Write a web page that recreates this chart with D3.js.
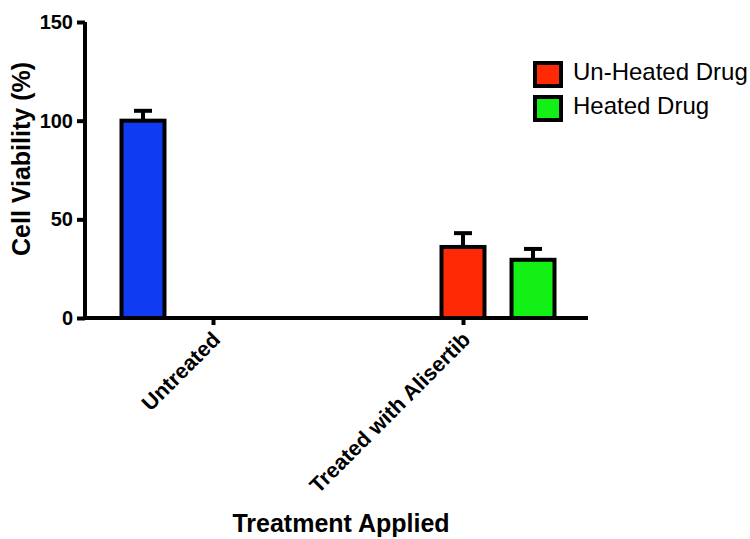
<!DOCTYPE html>
<html>
<head>
<meta charset="utf-8">
<script src="https://cdn.jsdelivr.net/npm/d3@7"></script>
<style>
  html, body { margin: 0; padding: 0; background: #fff; }
  svg { display: block; }
</style>
</head>
<body>
<svg id="chart" width="750" height="539"></svg>
<script>
// Categories on the x axis and the three series drawn in each group
const categories = ["Untreated", "Treated with Alisertib"];
const seriesNames = ["Untreated", "Un-Heated Drug", "Heated Drug"];
const seriesColors = ["#0f3cf2", "#ff2a05", "#12f016"];

// Mean cell viability (%) per series, one entry per category (null = not measured)
const untreatedMean = [100, null];
const unheatedMean = [null, 36];
const heatedMean = [null, 29.5];

// Error (SD) per series, one entry per category
const untreatedErr = [5, null];
const unheatedErr = [null, 7];
const heatedErr = [null, 5.5];

const yTicks = [0, 50, 100, 150];
const legendNames = ["Un-Heated Drug", "Heated Drug"];
const legendColors = ["#ff2a05", "#12f016"];

const means = [untreatedMean, unheatedMean, heatedMean];
const errs = [untreatedErr, unheatedErr, heatedErr];

const FONT = "Liberation Sans, Arial, Helvetica, sans-serif";
const svg = d3.select("#chart");
const axisX0 = 85, axisX1 = 588, axisY0 = 318;

const y = d3.scaleLinear().domain([0, 150]).range([318, 22]);
const x = d3.scalePoint().domain(categories).range([88, 588]).padding(0.5);
// series offsets inside a group: centres at -70, 0, +70
const xs = d3.scaleBand().domain(seriesNames).range([-91.5, 91.5]).paddingInner(0.386).paddingOuter(0);

// Flatten into bar records
const bars = [];
seriesNames.forEach((s, si) => {
  categories.forEach((c, ci) => {
    const v = means[si][ci];
    if (v != null) {
      const left = x(c) + xs(s);
      bars.push({ cat: c, series: s, value: v, err: errs[si][ci], color: seriesColors[si],
                  left: left, cx: left + xs.bandwidth() / 2 });
    }
  });
});

const g = svg.append("g");

// Error bars (upper only), drawn under the bar outline
g.selectAll("line.err").data(bars).join("line")
  .attr("class", "err")
  .attr("x1", d => d.cx).attr("x2", d => d.cx)
  .attr("y1", d => y(d.value)).attr("y2", d => y(d.value + d.err))
  .attr("stroke", "#000").attr("stroke-width", 4);
g.selectAll("line.cap").data(bars).join("line")
  .attr("class", "cap")
  .attr("x1", d => d.cx - 9).attr("x2", d => d.cx + 9)
  .attr("y1", d => y(d.value + d.err)).attr("y2", d => y(d.value + d.err))
  .attr("stroke", "#000").attr("stroke-width", 4);

// Bars
g.selectAll("rect.bar").data(bars).join("rect")
  .attr("class", "bar")
  .attr("x", d => d.left)
  .attr("y", d => y(d.value))
  .attr("width", xs.bandwidth())
  .attr("height", d => y(0) - y(d.value))
  .attr("fill", d => d.color)
  .attr("stroke", "#000")
  .attr("stroke-width", 4);

// Y axis
const yAxis = svg.append("g")
  .attr("transform", `translate(${axisX0},0)`)
  .call(d3.axisLeft(y).tickValues(yTicks).tickSize(8).tickSizeOuter(0).tickPadding(4));
yAxis.select(".domain").attr("stroke-width", 4).attr("d", `M0,${y(150)}V${axisY0 + 2}`);
yAxis.selectAll(".tick line").attr("stroke-width", 4);
yAxis.selectAll(".tick text")
  .attr("font-family", FONT)
  .attr("font-weight", "bold").attr("font-size", 20).attr("fill", "#000");

// X axis
const xAxis = svg.append("g")
  .attr("transform", `translate(0,${axisY0})`)
  .call(d3.axisBottom(x).tickSize(7).tickSizeOuter(0));
xAxis.select(".domain").attr("stroke-width", 4).attr("d", `M${axisX0 - 2},0H${axisX1}`);
xAxis.selectAll(".tick line").attr("stroke-width", 4);
xAxis.selectAll(".tick text")
  .attr("font-family", FONT)
  .attr("font-weight", "bold").attr("font-size", 21.5).attr("fill", "#000")
  .attr("text-anchor", "end")
  .attr("dx", 0).attr("dy", 0)
  .attr("transform", "translate(1,16) rotate(-45)");

// Axis titles
svg.append("text")
  .attr("transform", `translate(30,159) rotate(-90)`)
  .attr("text-anchor", "middle")
  .attr("font-family", FONT)
  .attr("font-weight", "bold").attr("font-size", 25)
  .text("Cell Viability (%)");

svg.append("text")
  .attr("x", 341).attr("y", 532)
  .attr("text-anchor", "middle")
  .attr("font-family", FONT)
  .attr("font-weight", "bold").attr("font-size", 25)
  .text("Treatment Applied");

// Legend
const legend = svg.append("g").attr("transform", "translate(535,63)");
const items = legend.selectAll("g").data(legendNames).join("g")
  .attr("transform", (d, i) => `translate(0,${i * 34})`);
items.append("rect")
  .attr("width", 26).attr("height", 23)
  .attr("fill", (d, i) => legendColors[i])
  .attr("stroke", "#000").attr("stroke-width", 4);
items.append("text")
  .attr("x", 38).attr("y", 17)
  .attr("font-family", FONT)
  .attr("font-size", 24)
  .text(d => d);
</script>
</body>
</html>
